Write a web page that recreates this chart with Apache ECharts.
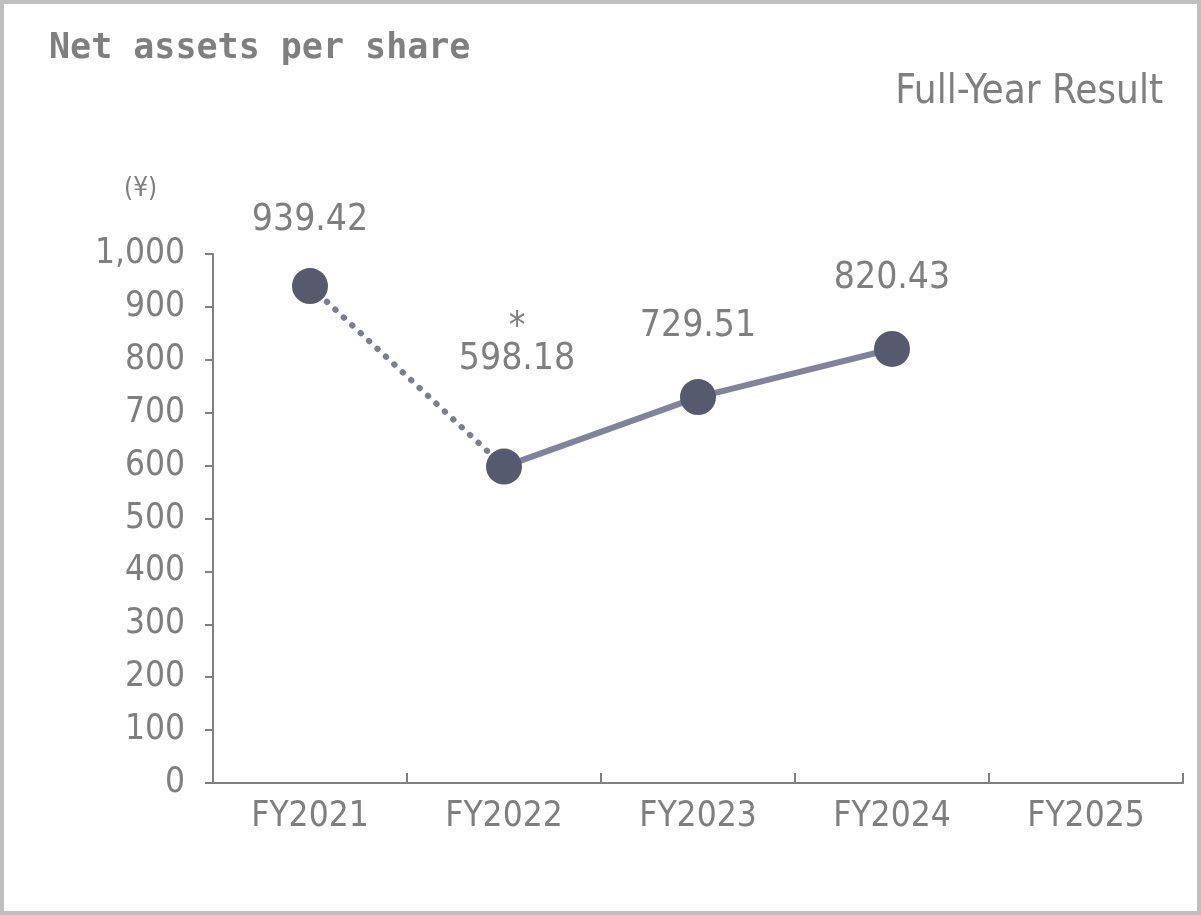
<!DOCTYPE html>
<html>
<head>
<meta charset="utf-8">
<script src="https://cdn.jsdelivr.net/npm/echarts@6/dist/echarts.min.js"></script>
<style>
html,body{margin:0;padding:0;background:#fff;}
#chart{width:1201px;height:915px;}
</style>
</head>
<body>
<div id="chart"></div>
<script>
const categories = ['FY2021', 'FY2022', 'FY2023', 'FY2024', 'FY2025'];
const values = [939.42, 598.18, 729.51, 820.43, null];
const labelTexts = ['939.42', '*\n598.18', '729.51', '820.43', ''];
const dottedSegment = [939.42, 598.18, null, null, null];
const solidSegment = [null, 598.18, 729.51, 820.43, null];
const yTicks = { min: 0, max: 1000, interval: 100 };

const numFont = "'Liberation Sans Narrow', 'DejaVu Sans Condensed', 'Liberation Sans', sans-serif";
const gray = '#7f7f7f';

const labelOffsets = [[0, 2], [13, -40], [0, -3], [0, -3], [0, 0]];

const chart = echarts.init(document.getElementById('chart'), null, { renderer: 'canvas' });

const markerData = values.map((v, i) => ({
  value: v,
  label: {
    formatter: labelTexts[i],
    offset: labelOffsets[i]
  }
}));

chart.setOption({
  backgroundColor: '#ffffff',
  animation: false,
  title: {
    text: 'Net assets per share',
    left: 44,
    top: 26,
    textStyle: {
      fontFamily: "'DejaVu Sans Mono', monospace",
      fontSize: 35,
      fontWeight: 'bold',
      color: gray
    }
  },
  graphic: [
    {
      type: 'rect',
      shape: { x: 2, y: 2, width: 1197, height: 911 },
      style: { fill: 'none', stroke: '#bfbfbf', lineWidth: 4 },
      silent: true
    },
    {
      type: 'text',
      right: 38,
      top: 73,
      style: {
        text: 'Full-Year Result',
        fontFamily: "'DejaVu Sans Condensed', 'Liberation Sans', sans-serif",
        fontSize: 40,
        fill: gray
      }
    },
    {
      type: 'text',
      left: 124,
      top: 176,
      style: {
        text: '(¥)',
        fontFamily: numFont,
        fontSize: 26,
        fill: gray
      }
    }
  ],
  grid: {
    left: 213,
    right: 18,
    top: 254,
    bottom: 132,
    containLabel: false
  },
  xAxis: {
    type: 'category',
    data: categories,
    boundaryGap: true,
    axisLine: { lineStyle: { color: '#808080', width: 2 } },
    axisTick: { show: true, inside: true, length: 10, lineStyle: { color: '#808080', width: 2 } },
    axisLabel: {
      color: gray,
      fontFamily: numFont,
      fontSize: 35,
      margin: 16
    },
    splitLine: { show: false }
  },
  yAxis: {
    type: 'value',
    min: yTicks.min,
    max: yTicks.max,
    interval: yTicks.interval,
    axisLine: { show: true, lineStyle: { color: '#808080', width: 2 } },
    axisTick: { show: true, inside: false, length: 8, lineStyle: { color: '#808080', width: 2 } },
    axisLabel: {
      color: gray,
      fontFamily: numFont,
      fontSize: 35,
      margin: 28,
      formatter: v => v >= 1000 ? v.toLocaleString('en-US') : String(v)
    },
    splitLine: { show: false }
  },
  series: [
    {
      name: 'dotted',
      type: 'line',
      data: dottedSegment,
      symbol: 'none',
      connectNulls: false,
      lineStyle: { color: '#7a7e94', width: 6, type: [0.5, 11], cap: 'round' },
      z: 2
    },
    {
      name: 'solid',
      type: 'line',
      data: solidSegment,
      symbol: 'none',
      connectNulls: false,
      lineStyle: { color: '#80839a', width: 6 },
      z: 2
    },
    {
      name: 'points',
      type: 'line',
      data: markerData,
      symbol: 'circle',
      symbolSize: 36,
      showAllSymbol: true,
      lineStyle: { width: 0, opacity: 0 },
      itemStyle: { color: '#555a6f' },
      label: {
        show: true,
        position: 'top',
        distance: 34,
        color: gray,
        fontFamily: numFont,
        fontSize: 37,
        lineHeight: 31,
        align: 'center'
      },
      z: 5
    }
  ]
});
</script>
</body>
</html>
